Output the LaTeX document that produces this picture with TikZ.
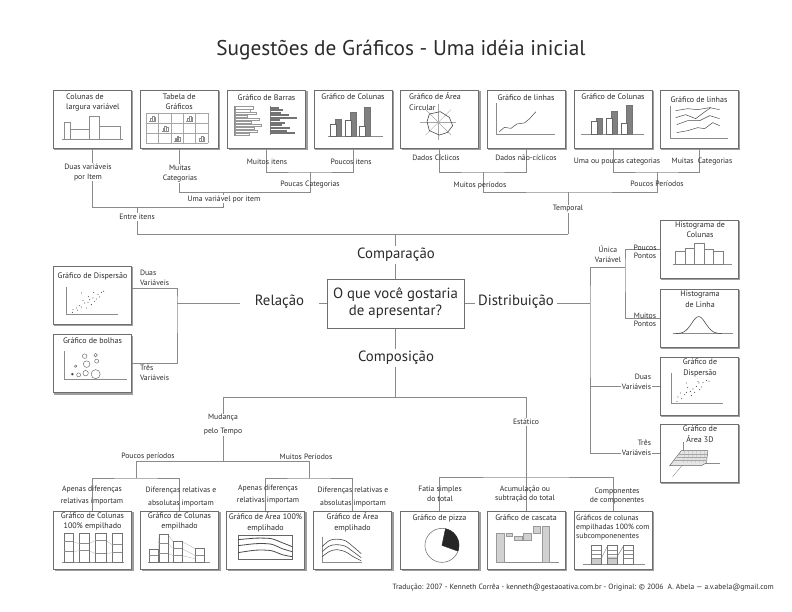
\documentclass[tikz,border=0pt]{standalone}
\usepackage{fontspec}
\setmainfont{PT Sans}
\usetikzlibrary{backgrounds}
\definecolor{txt}{HTML}{2B2B2B}
\definecolor{lin}{HTML}{8A8A8A}
\definecolor{bord}{HTML}{6E6E6E}
\tikzset{
  chartbox/.style={draw=bord, fill=white, line width=0.7pt, minimum width=78pt, minimum height=58pt, inner sep=0pt},
  boxshadow/.style={fill=black!38},
  conn/.style={draw=lin, line width=0.75pt},
  lbl/.style={font=\fontsize{7.7}{10}\selectfont, text=txt, align=center, inner sep=0.8pt},
  lblw/.style={lbl, fill=white},
  ttl/.style={font=\fontsize{8}{10.5}\selectfont, text=txt, align=center, inner sep=0pt, anchor=north},
  big/.style={font=\fontsize{14.8}{17}\selectfont, text=txt, inner sep=2pt, fill=white},
  ax/.style={draw=black!45, line width=0.4pt},
  cl/.style={draw=black!70, line width=0.5pt},
  dot/.style={fill=black!70},
}
\begin{document}
\begin{tikzpicture}[x=1pt,y=-1pt]
\useasboundingbox (0,0) rectangle (792,612);
\node[font=\fontsize{21.3}{24}\selectfont, text=txt] (title) at (401,50) {Sugestões de Gráficos - Uma idéia inicial};

% ---------------- top row boxes
\node[chartbox] (t1) at (92,119) {};
\node[chartbox] (t2) at (179.2,119) {};
\node[chartbox] (t3) at (266.5,119) {};
\node[chartbox] (t4) at (353,119) {};
\node[chartbox] (t5) at (439.5,119) {};
\node[chartbox] (t6) at (526,119) {};
\node[chartbox] (t7) at (613,119) {};
\node[chartbox] (t8) at (699,119) {};
\node[ttl, anchor=north west, align=left] (t1t) at (66,93.5) {Colunas de\\largura variável};
\node[ttl] (t2t) at (179.2,93.5) {Tabela de\\Gráficos};
\node[ttl] (t3t) at (266.5,94.5) {Gráfico de Barras};
\node[ttl] (t4t) at (353,93.5) {Gráfico de Colunas};
\node[ttl, anchor=north west, align=left] (t5t) at (409,92.5) {Gráfico de Área\\Circular};
\node[ttl] (t6t) at (526,94.5) {Gráfico de linhas};
\node[ttl] (t7t) at (613,93.5) {Gráfico de Colunas};
\node[ttl] (t8t) at (699,96.5) {Gráfico de linhas};

% t1 chart: variable width columns
\begin{scope}[shift={(t1.north west)}]
\draw[ax] (9,50) -- (70,50);
\draw[ax] (12,50) rectangle (17.7,33) (17.7,50) rectangle (37,40) (37,50) rectangle (47,27) (47,50) rectangle (68,37);
\end{scope}
% t2 chart: table of charts
\begin{scope}[shift={(t2.north west)}]
\foreach \yy in {23.3,33.3,43.3,53.3} \draw[black!35, line width=0.35pt] (6.5,\yy) -- (68,\yy);
\foreach \xx in {6.5,18.8,31.1,43.4,55.7,68} \draw[black!35, line width=0.35pt] (\xx,23.3) -- (\xx,53.3);
\foreach \ix/\iy in {9.5/31.3, 46.4/31.3, 21.8/41.3, 34.1/51.3, 58.7/51.3}{
  \draw[black!45, line width=0.3pt] (\ix,\iy) -- ++(6.5,0);
  \draw[black!45, line width=0.3pt] ({\ix+1},\iy) rectangle ++(1.6,-2.6) ({\ix+2.8},\iy) rectangle ++(1.6,-4.8) ({\ix+4.6},\iy) rectangle ++(1.4,-3.4);
}
\end{scope}
% t3 chart: bars
\begin{scope}[shift={(t3.north west)}]
\draw[ax] (7.5,16) -- (7.5,46);
\foreach \i/\w in {0/18,1/15,2/21,3/12,4/24,5/16,6/26,7/19,8/22,9/14}
  \draw[black!40, line width=0.3pt] (7.5,{17+\i*2.9}) rectangle ++(\w,2.2);
\draw[ax] (43,16) -- (43,45);
\foreach \i/\w in {0/9,1/13,2/11,3/19,4/27,5/10,6/15,7/12,8/20,9/17,10/25}
  \fill[black!55] (43,{17+\i*2.55}) rectangle ++(\w,2.0);
\end{scope}
% t4 chart: columns
\begin{scope}[shift={(t4.north west)}]
\draw[ax] (14,47) -- (69,47);
\foreach \wx/\wt/\gx/\gt in {17/35/21/30, 32/31/36/23, 46/37/50/18}{
  \filldraw[fill=black!50, draw=black!55, line width=0.3pt] (\gx,47) rectangle (\gx+6.5,\gt);
  \filldraw[fill=white, draw=black!60, line width=0.4pt] (\wx,47) rectangle (\wx+6,\wt);
}
\end{scope}
% t5 chart: radar
\begin{scope}[shift={(t5.north west)}]
\foreach \a in {0,45,...,315} \draw[black!35, line width=0.4pt] (38.2,32.7) -- ++(\a:18);
\draw[black!70, line width=0.6pt] (29.2,24.4) -- (40.2,22) -- (49.2,27.7) -- (52.5,36) -- (47.5,42.7) -- (39.2,45.4) -- (29.2,41) -- (26.9,32) -- cycle;
\end{scope}
% t6 chart: line
\begin{scope}[shift={(t6.north west)}]
\draw[ax] (10,13) -- (10,45) -- (68,45);
\draw[cl] (12.7,42) -- (17.7,37.7) -- (24.3,38.7) -- (30.3,34.3) -- (37.7,33.3) -- (42.7,29.3) -- (49.3,22);
\end{scope}
% t7 chart: columns
\begin{scope}[shift={(t7.north west)}]
\draw[ax] (7,45) -- (70,45);
\foreach \wx/\wt/\gx/\gt in {18/32/22/29, 33/29/37/22, 48/34/52/16}{
  \filldraw[fill=black!50, draw=black!55, line width=0.3pt] (\gx,45) rectangle (\gx+6,\gt);
  \filldraw[fill=white, draw=black!60, line width=0.4pt] (\wx,45) rectangle (\wx+6,\wt);
}
\end{scope}
% t8 chart: multiple lines
\begin{scope}[shift={(t8.north west)}]
\draw[ax] (11,16) -- (11,49) -- (68,49);
\draw[cl] (16,21) -- (28,19) -- (38,20) -- (50,18) -- (60,20);
\draw[cl] (16,28) -- (26,25) -- (36,29) -- (44,23) -- (51,18);
\draw[cl] (17,35) -- (28,31) -- (40,31) -- (50,26) -- (60,29);
\draw[cl] (17,43) -- (28,41) -- (38,38) -- (45,39) -- (53,33) -- (60,36);
\end{scope}

% ---------------- left boxes
\node[chartbox] (s1) at (92,295) {};
\node[chartbox] (s2) at (92,363.5) {};
\node[ttl] (s1t) at (92.5,272.5) {Gráfico de Dispersão};
\node[ttl] (s2t) at (92.5,338) {Gráfico de bolhas};
\begin{scope}[shift={(s1.north west)}]
\draw[ax] (14,21) -- (14,49) -- (65,49);
\foreach \px/\py in {19.7/46.7,20.3/44,23.7/42.3,27/40,28.7/41.3,32/37.3,35.3/36.7,37/34,40.3/32.3,43.7/33.3,45.3/29,48.7/26.7,51/25.7,41/26.7,28.7/27.3,33.7/42.3,38.7/39,30.3/34.7,42/35.7,47/31.3,25/44.5,36/31}
  \fill[dot] (\px,\py) circle (0.55);
\end{scope}
\begin{scope}[shift={(s2.north west)}]
\draw[ax] (12,17) -- (12,45) -- (74,45);
\fill[black!70] (19.7,40) circle (1.4);
\draw[black!60, line width=0.45pt] (26,40.7) circle (2) (33,39) circle (2.7) (43,40) circle (4.5) (23,32) circle (1.2) (34,30) circle (3.3) (44,27) circle (2) (32,22) circle (2.3) (43,21) circle (1.7);
\end{scope}

% ---------------- right boxes
\node[chartbox] (r1) at (699,249) {};
\node[chartbox] (r2) at (699,318) {};
\node[chartbox] (r3) at (699,386) {};
\node[chartbox] (r4) at (699,453) {};
\node[ttl] (r1t) at (700,221.5) {Histograma de\\Colunas};
\node[ttl] (r2t) at (700,290.8) {Histograma\\de Linha};
\node[ttl] (r3t) at (700,358.8) {Gráfico de\\Dispersão};
\node[ttl] (r4t) at (700,425.8) {Gráfico de\\Área 3D};
\begin{scope}[shift={(r1.north west)}]
\draw[ax] (13,45) -- (72,45);
\draw[black!50, line width=0.45pt] (16,45) rectangle (26,32) (26,45) rectangle (35,29) (35,45) rectangle (45,24) (45,45) rectangle (54,30) (54,45) rectangle (64,32);
\end{scope}
\begin{scope}[shift={(r2.north west)}]
\draw[ax] (13,45) -- (73,45);
\draw[black!70, line width=0.6pt] plot[domain=16:62, samples=50, smooth] (\x, {45 - 17*exp(-((\x-39)^2)/(2*49))});
\end{scope}
\begin{scope}[shift={(r3.north west)}]
\draw[ax] (12,16) -- (12,47) -- (63,47);
\foreach \px/\py in {17.3/44.7,18.3/40.3,20.7/36.3,25/38,26.7/35.7,30.7/34.7,33.3/32.3,35/35.7,36.7/29.7,39.3/26.3,41.7/30.3,43.3/25.7,46.7/23.7,49.3/24.7,26.7/26.3,31.7/39,38.3/24.7,40/33,22/42,28/31}
  \fill[dot] (\px,\py) circle (0.55);
\end{scope}
\begin{scope}[shift={(r4.north west)}]
\draw[ax] (24,18) -- (24,40) -- (60,40);
\draw[ax] (24,40) -- (13,53);
\filldraw[fill=black!10, draw=black!60, line width=0.45pt] (10,42) -- (21.7,27) -- (48.3,27) -- (46.7,39.3) -- (41.7,42) -- cycle;
\foreach \xx in {25,29,33,37,41,45} \draw[black!35, line width=0.25pt] (\xx,27) -- ({\xx-1},39);
\foreach \yy/\xl in {30/19.4,33/17.1,36/14.7} \draw[black!35, line width=0.25pt] (\xl,\yy) -- (47.5,\yy);
\end{scope}

% ---------------- bottom boxes
\node[chartbox] (b1) at (92.5,540) {};
\node[chartbox] (b2) at (179.5,540) {};
\node[chartbox] (b3) at (265.5,540) {};
\node[chartbox] (b4) at (352.5,540) {};
\node[chartbox] (b5) at (439.5,540) {};
\node[chartbox] (b6) at (526,540) {};
\node[chartbox] (b7) at (613,540) {};
\node[ttl] (b1t) at (92.5,512.5) {Gráfico de Colunas\\100\% empilhado};
\node[ttl] (b2t) at (179.5,512.5) {Gráfico de Colunas\\empilhado};
\node[ttl] (b3t) at (265.5,512.5) {Gráfico de Área 100\%\\emplihado};
\node[ttl] (b4t) at (352.5,512.5) {Gráfico de Área\\emplihado};
\node[ttl] (b5t) at (439.5,514.5) {Gráfico de pizza};
\node[ttl] (b6t) at (526,514.5) {Gráfico de cascata};
\node[ttl, anchor=north west, align=left, font=\fontsize{7.6}{9}\selectfont] (b7t) at (576,514.8) {Gráficos de colunas\\empilhadas 100\% com\\subcomponenentes};
% b1: 100% stacked columns
\begin{scope}[shift={(b1.north west)}]
\draw[black!30, line width=0.35pt] (20,31) -- (26,33) (20,41) -- (26,40) (36,33) -- (42,30) (36,40) -- (42,43) (53,30) -- (59,34) (53,43) -- (59,42);
\draw[ax] (9,51.7) -- (71,51.7);
\foreach \xa/\xb/\da/\db in {11/20/31/41, 26/36/33/40, 42/53/30/43, 59/69/34/42}{
  \draw[black!55, line width=0.45pt] (\xa,51.7) rectangle (\xb,23);
  \draw[black!45, line width=0.35pt] (\xa,\da) -- (\xb,\da) (\xa,\db) -- (\xb,\db);
}
\end{scope}
% b2: stacked columns
\begin{scope}[shift={(b2.north west)}]
\draw[black!30, line width=0.35pt] (18,39) -- (19,24) (28,24) -- (33,31) (28,33) -- (33,38) (28,43) -- (33,45) (42,31) -- (55,38) (42,38) -- (55,45) (42,45) -- (55,48);
\draw[ax] (8,51.7) -- (70,51.7);
\draw[black!55, line width=0.45pt] (9,51.7) rectangle (18,39) (19,51.7) rectangle (28,24) (33,51.7) rectangle (42,31) (55,51.7) rectangle (64,38);
\draw[black!45, line width=0.35pt] (9,45) -- (18,45) (19,33) -- (28,33) (19,43) -- (28,43) (33,38) -- (42,38) (33,45) -- (42,45) (55,45) -- (64,45);
\end{scope}
% b3: 100% area
\begin{scope}[shift={(b3.north west)}]
\draw[black!60, line width=0.5pt] (12,25) rectangle (66,49);
\draw[black!70, line width=0.8pt] plot[smooth] coordinates {(12,29) (30,27.5) (45,28) (56,32) (66,36)};
\draw[black!70, line width=0.8pt] plot[smooth] coordinates {(12,35) (30,33) (45,33.5) (56,38) (66,41)};
\draw[black!70, line width=0.8pt] plot[smooth] coordinates {(12,42) (30,39.5) (45,40) (56,44) (66,46)};
\end{scope}
% b4: stacked area
\begin{scope}[shift={(b4.north west)}]
\draw[ax] (9,26) -- (9,52) -- (49,52);
\draw[black!70, line width=0.6pt] plot[smooth] coordinates {(9,36) (16,30) (23,28.5) (32,30) (40,36) (48,43)};
\draw[black!70, line width=0.6pt] plot[smooth] coordinates {(9,41) (16,35.5) (23,34) (32,35.5) (40,41) (48,47)};
\draw[black!70, line width=0.6pt] plot[smooth] coordinates {(9,46) (16,41) (23,39) (32,41) (40,46) (48,50)};
\end{scope}
% b5: pie
\begin{scope}[shift={(b5.north west)}]
\draw[black!60, line width=0.5pt] (41.8,34.7) circle (17);
\filldraw[fill=black!85, draw=black!85] (41.8,34.7) -- ++(-78:17) arc[start angle=-78, end angle=20, radius=17] -- cycle;
\end{scope}
% b6: waterfall
\begin{scope}[shift={(b6.north west)}]
\draw[ax] (9,51.7) -- (72,51.7);
\filldraw[fill=black!18, draw=black!40, line width=0.35pt] (10,51.7) rectangle (18,23) (20,23) rectangle (26,26) (28,26) rectangle (36,30) (37,23) rectangle (45,30) (47,16) rectangle (54,23) (56,51.7) rectangle (63,16);
\end{scope}
% b7: stacked subcomponents
\begin{scope}[shift={(b7.north west)}]
\draw[ax] (9,53.3) -- (71,53.3);
\fill[black!20] (18,48) rectangle (27.5,53.3) (34,46) rectangle (43.5,53.3);
\foreach \xa in {18,34,50}{
  \draw[black!55, line width=0.4pt] (\xa,53.3) rectangle (\xa+9.5,35);
  \draw[black!45, line width=0.3pt] (\xa,39) -- (\xa+9.5,39) (\xa,43) -- (\xa+9.5,43) (\xa,47) -- (\xa+9.5,47);
}
\draw[black!55, line width=0.4pt] (27.5,48) -- (34,35) (43.5,46) -- (50,35);
\end{scope}

% ---------------- central question and category labels
\node[draw=bord, fill=white, line width=0.7pt, minimum width=137pt, minimum height=49pt, align=center, font=\fontsize{14.8}{17}\selectfont, text=txt, inner sep=0pt] (q) at (395.5,303.5) {O que você gostaria\\de apresentar?};
\node[big] (comp) at (396,255) {Comparação};
\node[big, inner xsep=15pt] (rel) at (279.5,302) {Relação};
\node[big, inner xsep=3.5pt] (dist) at (516,302) {Distribuição};
\node[big] (cmps) at (396,358) {Composição};

% ---------------- connector labels
\node[lblw] (l1) at (88,172) {Duas variáveis\\por Item};
\node[lblw] (l2) at (180,173.5) {Muitas\\Categorias};
\node[lbl] (l3) at (267,162) {Muitos itens};
\node[lbl] (l4) at (351,162) {Poucos itens};
\node[lbl] (l5) at (436,158) {Dados Cíclicos};
\node[lbl] (l6) at (526,158) {Dados não-cíclicos};
\node[lbl] (l7) at (617,162) {Uma ou poucas categorias};
\node[lbl] (l8) at (702,162) {Muitas\ \ Categorias};
\node[lbl] (l9) at (310,185) {Poucas Categorias};
\node[lblw] (l10) at (224,199) {Uma variável por item};
\node[lblw] (l11) at (137,217) {Entre itens};
\node[lbl] (l12) at (480,185) {Muitos períodos};
\node[lbl] (l13) at (657,184) {Poucos Períodos};
\node[lblw] (l14) at (568,209) {Temporal};
\node[lbl, anchor=west, align=left] (l15) at (139,277.5) {Duas\\Variáveis};
\node[lbl, anchor=west, align=left] (l16) at (139,372.5) {Três\\Variáveis};
\node[lbl] (l17) at (608,254) {Única\\Variável};
\node[lbl, font=\fontsize{7.7}{8}\selectfont] (l18) at (645,252) {Poucos\\Pontos};
\node[lbl, font=\fontsize{7.7}{8.5}\selectfont] (l19) at (645,320) {Muitos\\Pontos};
\node[lblw, align=right, anchor=east] (l20) at (652,381.5) {Duas\\Variáveis};
\node[lblw, align=right, anchor=east] (l21) at (652,448) {Três\\Variáveis};
\node[lblw, font=\fontsize{7.7}{14}\selectfont] (l22) at (223,425) {Mudança\\pelo Tempo};
\node[lbl] (l23) at (148,456) {Poucos períodos};
\node[lbl] (l24) at (306,457) {Muitos Períodos};
\node[lbl, font=\fontsize{7.7}{11.5}\selectfont] (l25) at (92,495.5) {Apenas diferenças\\relativas importam};
\node[lbl, font=\fontsize{7.7}{13}\selectfont] (l26) at (181,497.5) {Diferenças relativas e\\absolutas importam};
\node[lbl, font=\fontsize{7.7}{12.5}\selectfont] (l27) at (268,494.5) {Apenas diferenças\\relativas importam};
\node[lbl, font=\fontsize{7.7}{13.5}\selectfont] (l28) at (353,497) {Diferenças relativas e\\absolutas importam};
\node[lblw] (l29) at (526,422) {Estático};
\node[lbl, font=\fontsize{7.7}{9.5}\selectfont] (l30) at (440,494) {Fatia simples\\do total};
\node[lbl, font=\fontsize{7.7}{9.5}\selectfont] (l31) at (525,494) {Acumulação ou\\subtração do total};
\node[lbl, font=\fontsize{7.7}{9.5}\selectfont] (l32) at (617,496) {Componentes\\de componentes};

\node[font=\fontsize{7.6}{9}\selectfont, text=txt, anchor=east, inner sep=0pt] (foot) at (774,588) {Tradução: 2007 - Kenneth Corrêa - kenneth@gestaoativa.com.br - Original: © 2006\ \ A. Abela — a.v.abela@gmail.com};

% ---------------- connectors and shadows (behind)
\coordinate (c1) at (179.2,192);
\coordinate (c2) at (310,172);
\coordinate (c3) at (223,207);
\coordinate (c4) at (137,234);
\coordinate (c5) at (568,234);
\coordinate (c6) at (483,172);
\coordinate (c7) at (657,172);
\coordinate (c8) at (568,192);
\coordinate (c9) at (177,303.5);
\coordinate (d1) at (590,303.5);
\coordinate (d2) at (625,267);
\coordinate (e1) at (223,397);
\coordinate (e2) at (526,397);
\coordinate (e3) at (136,461);
\coordinate (e4) at (309,461);
\coordinate (e5) at (136,478);
\coordinate (e6) at (309,478);
\coordinate (e7) at (526,477);
\begin{pgfonlayer}{background}
\foreach \n in {t1,t2,t3,t4,t5,t6,t7,t8,s1,s2,r1,r2,r3,r4,b1,b2,b3,b4,b5,b6,b7}
  \fill[boxshadow] ([xshift=1.8pt,yshift=-1.8pt]\n.south west) rectangle ([xshift=1.8pt,yshift=-1.8pt]\n.north east);
\draw[conn] (t3.south) |- (c2) -| (t4.south);
\draw[conn] (c2) |- (c1) -- (t2.south);
\draw[conn] (t1.south) |- (c3) -- (c3 |- c1);
\draw[conn] (c4 |- c3) -- (c4) -- (c5);
\draw[conn] (q.north) -- (q.north |- c4);
\draw[conn] (t5.south) |- (c6) -| (t6.south);
\draw[conn] (t7.south) |- (c7) -| (t8.south);
\draw[conn] (c6) |- (c8) -| (c7);
\draw[conn] (c8) -- (c5);
\draw[conn] (q.west) -- (c9);
\draw[conn] ([yshift=7pt]s1.east) -| (c9) |- (s2.east);
\draw[conn] (q.east) -- (d1);
\draw[conn] (r1.west) -| (d2) |- (r2.west);
\draw[conn] (d2) -| (d1) |- (r4.west);
\draw[conn] (r3.west) -- (r3.west -| d1);
\draw[conn] (q.south) -- (q.south |- e1);
\draw[conn] (e1) -- (e2);
\draw[conn] (e1) -- (e1 |- e3);
\draw[conn] (e3) -- (e4);
\draw[conn] (e3) -- (e5);
\draw[conn] (b1.north) |- (e5) -| (b2.north);
\draw[conn] (e4) -- (e6);
\draw[conn] (b3.north) |- (e6) -| (b4.north);
\draw[conn] (e2) -- (b6.north);
\draw[conn] (b5.north) |- (e7) -| (b7.north);
\end{pgfonlayer}
\end{tikzpicture}
\end{document}
